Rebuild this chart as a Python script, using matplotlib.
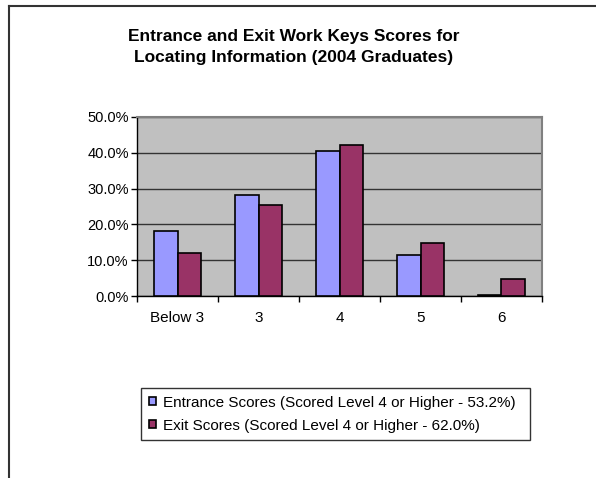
import matplotlib
matplotlib.use("Agg")
import matplotlib.pyplot as plt
import numpy as np
from matplotlib.ticker import FuncFormatter, MultipleLocator
from matplotlib.lines import Line2D

plt.rcParams['font.family'] = ['Liberation Sans', 'DejaVu Sans']

categories = ["Below 3", "3", "4", "5", "6"]
entrance = [18.2, 28.2, 40.6, 11.5, 0.4]
exit_scores = [12.1, 25.4, 42.3, 14.8, 4.8]
series_labels = ["Entrance Scores (Scored Level 4 or Higher - 53.2%)",
                 "Exit Scores (Scored Level 4 or Higher - 62.0%)"]
title = "Entrance and Exit Work Keys Scores for\nLocating Information (2004 Graduates)"

W, H = 596, 478
fig = plt.figure(figsize=(W / 100, H / 100), dpi=100)
fig.patch.set_facecolor('white')

# outer frame (left and top lines)
fig.add_artist(Line2D([9 / W, 9 / W], [0, 1 - 6 / H], transform=fig.transFigure,
                      color='#333333', lw=1.5))
fig.add_artist(Line2D([9 / W, 1], [1 - 6 / H, 1 - 6 / H], transform=fig.transFigure,
                      color='#333333', lw=1.5))

left, right, top, bottom = 137, 542, 117, 296
ax = fig.add_axes([left / W, 1 - bottom / H, (right - left) / W, (bottom - top) / H])
ax.set_facecolor('#C0C0C0')

x = np.arange(len(categories))
bw = 0.296
b1 = ax.bar(x - bw / 2, entrance, bw, color='#9999FF', edgecolor='black', lw=1.2,
            label=series_labels[0], zorder=3)
b2 = ax.bar(x + bw / 2, exit_scores, bw, color='#993366', edgecolor='black', lw=1.2,
            label=series_labels[1], zorder=3)

ax.set_xlim(-0.5, len(categories) - 0.5)
ax.set_ylim(0, 50)
ax.yaxis.set_major_locator(MultipleLocator(10))
ax.yaxis.set_major_formatter(FuncFormatter(lambda v, p: f"{v:.1f}%"))
ax.grid(axis='y', color='#333333', lw=1, zorder=1)
ax.set_axisbelow(True)

ax.set_xticks(x)
ax.set_xticklabels(categories, fontsize=11)
ax.set_xticks(np.arange(len(categories) + 1) - 0.5, minor=True)
ax.tick_params(axis='x', which='major', length=0, pad=11)
ax.tick_params(axis='x', which='minor', length=4, width=1, color='black', direction='out')
ax.tick_params(axis='y', length=4, width=1, color='black', labelsize=10.5, pad=2)

for s in ['top', 'right']:
    ax.spines[s].set_color('#808080')
    ax.spines[s].set_linewidth(1.5)
for s in ['left', 'bottom']:
    ax.spines[s].set_color('black')
    ax.spines[s].set_linewidth(1)

fig.text(294 / W, 1 - 47 / H, title, ha='center', va='center', fontsize=12.5,
         fontweight='bold', linespacing=1.45)

lx0, lx1, ly0, ly1 = 141, 530, 388, 444
leg = fig.legend(handles=[b1, b2], labels=series_labels,
                 loc='upper left', bbox_to_anchor=(lx0 / W, 1 - ly1 / H, (lx1 - lx0) / W, (ly1 - ly0) / H),
                 mode='expand', fontsize=11, frameon=True, fancybox=False, edgecolor='black',
                 handlelength=0.45, handleheight=0.45, handletextpad=0.5, labelspacing=0.6,
                 borderpad=0.5, borderaxespad=0)
leg.get_frame().set_linewidth(1)

fig.savefig("out.png", dpi=100, facecolor='white')
